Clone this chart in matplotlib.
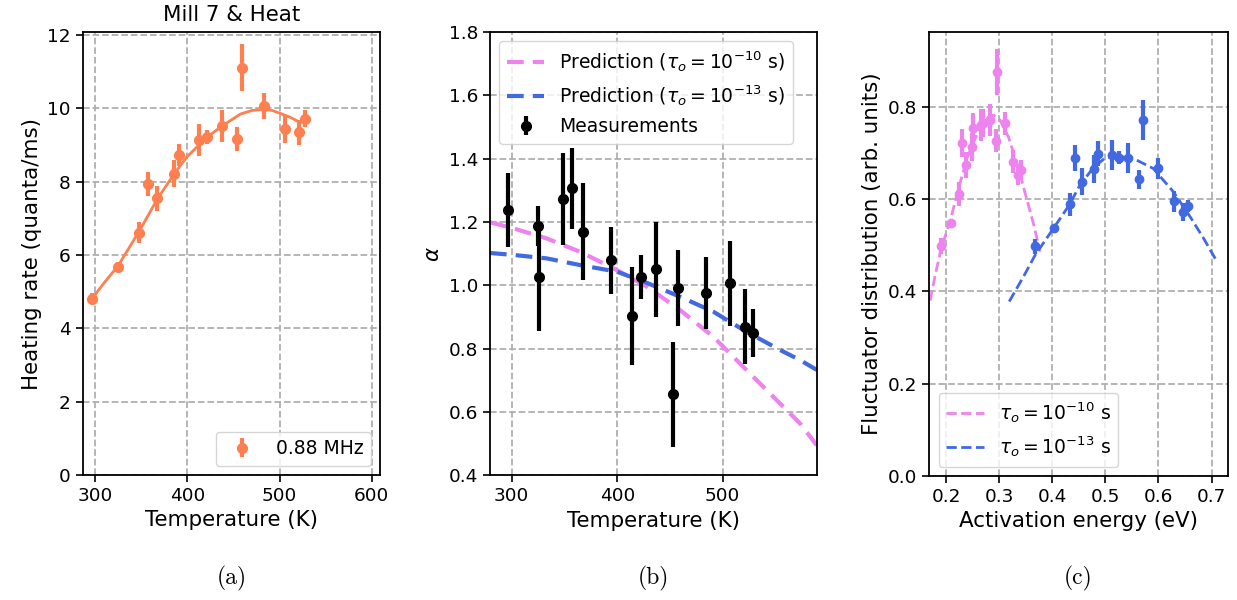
import matplotlib
matplotlib.use("Agg")
import matplotlib.pyplot as plt

# ---------------- Panel (a) data ----------------
a_temp = [296, 325, 348, 357, 367.5, 386, 391, 412.6, 421.7, 438, 453.4, 459, 482.7, 506, 520.6, 527.9]
a_rate = [4.81, 5.68, 6.61, 7.94, 7.54, 8.21, 8.73, 9.13, 9.22, 9.52, 9.16, 11.11, 10.07, 9.43, 9.35, 9.72]
a_err = [0.15, 0.12, 0.28, 0.32, 0.35, 0.37, 0.30, 0.43, 0.20, 0.44, 0.32, 0.65, 0.35, 0.37, 0.34, 0.22]
a_fit_temp = [296, 310, 325, 348.3, 367.5, 385.9, 399.7, 412.7, 425, 437.9, 457.4, 470, 482.7, 492, 500.8, 512, 522.4]
a_fit_rate = [4.79, 5.25, 5.71, 6.67, 7.53, 8.22, 8.68, 9.00, 9.28, 9.52, 9.84, 9.94, 9.97, 9.94, 9.86, 9.75, 9.61]

# ---------------- Panel (b) data ----------------
b_temp = [296.2, 325, 325.6, 348.3, 357.4, 367.9, 394.1, 413.7, 422.3, 436.8, 457.9, 453.2, 483.9, 506.6, 521.4, 528.4]
b_alpha = [1.237, 1.187, 1.027, 1.273, 1.307, 1.169, 1.079, 0.904, 1.027, 1.050, 0.991, 0.656, 0.977, 1.007, 0.869, 0.849]
b_err = [0.117, 0.064, 0.170, 0.145, 0.128, 0.153, 0.105, 0.155, 0.070, 0.150, 0.120, 0.165, 0.114, 0.134, 0.119, 0.076]
b_pred_temp = [279.4, 301.5, 333.2, 364.7, 399.8, 428, 459.5, 491, 522.7, 554.3, 573.3, 589.1]
b_pred10 = [1.199, 1.180, 1.148, 1.106, 1.048, 0.996, 0.922, 0.838, 0.732, 0.627, 0.564, 0.495]
b_pred13 = [1.102, 1.096, 1.085, 1.064, 1.043, 1.008, 0.964, 0.917, 0.853, 0.796, 0.764, 0.733]

# ---------------- Panel (c) data ----------------
c_e10 = [0.190, 0.209, 0.2245, 0.2307, 0.2377, 0.2496, 0.2514, 0.266, 0.270, 0.283, 0.2936, 0.2967, 0.3117, 0.327, 0.335, 0.3407]
c_d10 = [0.498, 0.549, 0.610, 0.722, 0.674, 0.713, 0.755, 0.760, 0.765, 0.771, 0.726, 0.875, 0.764, 0.681, 0.653, 0.664]
c_err10 = [0.018, 0.008, 0.026, 0.030, 0.029, 0.031, 0.031, 0.035, 0.030, 0.035, 0.025, 0.050, 0.025, 0.025, 0.023, 0.020]
c_e13 = [0.368, 0.4028, 0.4329, 0.443, 0.456, 0.478, 0.4857, 0.5126, 0.525, 0.5434, 0.5635, 0.5704, 0.600, 0.6288, 0.6463, 0.655]
c_d13 = [0.498, 0.537, 0.5885, 0.689, 0.638, 0.665, 0.698, 0.696, 0.690, 0.689, 0.643, 0.771, 0.667, 0.595, 0.572, 0.5855]
c_err13 = [0.016, 0.006, 0.025, 0.028, 0.030, 0.030, 0.027, 0.033, 0.015, 0.032, 0.021, 0.044, 0.023, 0.022, 0.020, 0.013]
c_fit10_e = [0.170, 0.180, 0.190, 0.209, 0.2245, 0.240, 0.260, 0.280, 0.290, 0.3017, 0.3174, 0.335, 0.352, 0.365, 0.377]
c_fit10_d = [0.380, 0.437, 0.489, 0.558, 0.627, 0.690, 0.745, 0.778, 0.782, 0.771, 0.735, 0.672, 0.600, 0.545, 0.486]
c_fit13_e = [0.319, 0.345, 0.368, 0.402, 0.432, 0.452, 0.4775, 0.4995, 0.5215, 0.5527, 0.590, 0.628, 0.6595, 0.685, 0.7085]
c_fit13_d = [0.378, 0.430, 0.479, 0.536, 0.587, 0.630, 0.668, 0.689, 0.693, 0.688, 0.6665, 0.616, 0.562, 0.515, 0.468]

CORAL = "coral"
PINK = "violet"
BLUE = "royalblue"

TICK_FS = 13.3
LABEL_FS = 15.4
LEG_FS = 13.5

fig = plt.figure(figsize=(12.37, 6.0), dpi=100)

def style(ax):
    ax.grid(True, color="#b0b0b0", linestyle="--", linewidth=1.3)
    ax.set_axisbelow(True)
    ax.tick_params(labelsize=TICK_FS, width=1.2, length=5)
    for s in ax.spines.values():
        s.set_linewidth(1.3)

# ---- (a) ----
axa = fig.add_axes([0.0669, 0.2083, 0.3072 - 0.0669, 0.9467 - 0.2083])
axa.plot(a_fit_temp, a_fit_rate, color=CORAL, lw=2.0)
axa.errorbar(a_temp, a_rate, yerr=a_err, fmt="o", color=CORAL, ms=7, elinewidth=3, capsize=0, label="0.88 MHz")
axa.set_xlim(286.5, 609)
axa.set_ylim(0, 12.08)
axa.set_xticks([300, 400, 500, 600])
axa.set_yticks([0, 2, 4, 6, 8, 10, 12])
axa.set_xlabel("Temperature (K)", fontsize=LABEL_FS)
axa.set_ylabel("Heating rate (quanta/ms)", fontsize=LABEL_FS)
axa.set_title("Mill 7 & Heat", fontsize=LABEL_FS, pad=8)
axa.legend(loc="lower right", fontsize=LEG_FS)
style(axa)

# ---- (b) ----
axb = fig.add_axes([0.3961, 0.2078, 0.6602 - 0.3961, 0.9467 - 0.2078])
axb.plot(b_pred_temp, b_pred10, color=PINK, lw=3, ls=(0, (4, 2.2)),
         label=r"Prediction ($\tau_o = 10^{-10}$ s)")
axb.plot(b_pred_temp, b_pred13, color=BLUE, lw=3, ls=(0, (4, 2.2)),
         label=r"Prediction ($\tau_o = 10^{-13}$ s)")
axb.errorbar(b_temp, b_alpha, yerr=b_err, fmt="o", color="black", ms=7, elinewidth=3, capsize=0,
             label="Measurements")
axb.set_xlim(279.4, 589.1)
axb.set_ylim(0.4, 1.8)
axb.set_xticks([300, 400, 500])
axb.set_yticks([0.4, 0.6, 0.8, 1.0, 1.2, 1.4, 1.6, 1.8])
axb.set_xlabel("Temperature (K)", fontsize=LABEL_FS)
axb.set_ylabel(r"$\alpha$", fontsize=LABEL_FS)
axb.legend(loc="upper left", fontsize=LEG_FS)
style(axb)

# ---- (c) ----
axc = fig.add_axes([0.7513, 0.2067, 0.9925 - 0.7513, 0.9467 - 0.2067])
axc.plot(c_fit10_e, c_fit10_d, color=PINK, lw=2, ls="--", label=r"$\tau_o = 10^{-10}$ s")
axc.plot(c_fit13_e, c_fit13_d, color=BLUE, lw=2, ls="--", label=r"$\tau_o = 10^{-13}$ s")
axc.errorbar(c_e10, c_d10, yerr=c_err10, fmt="o", color=PINK, ms=6, elinewidth=3, capsize=0)
axc.errorbar(c_e13, c_d13, yerr=c_err13, fmt="o", color=BLUE, ms=6, elinewidth=3, capsize=0)
axc.set_xlim(0.1686, 0.7305)
axc.set_ylim(0, 0.962)
axc.set_xticks([0.2, 0.3, 0.4, 0.5, 0.6, 0.7])
axc.set_yticks([0.0, 0.2, 0.4, 0.6, 0.8])
axc.set_xlabel("Activation energy (eV)", fontsize=LABEL_FS)
axc.set_ylabel("Fluctuator distribution (arb. units)", fontsize=LABEL_FS)
axc.legend(loc="lower left", fontsize=LEG_FS)
style(axc)

# panel labels
for ax, lab in [(axa, "(a)"), (axb, "(b)"), (axc, "(c)")]:
    pos = ax.get_position()
    fig.text((pos.x0 + pos.x1) / 2, 1 - 578 / 600, lab, ha="center", va="center",
             fontsize=17, fontname="cmr10")

fig.savefig("out.png", dpi=100)
